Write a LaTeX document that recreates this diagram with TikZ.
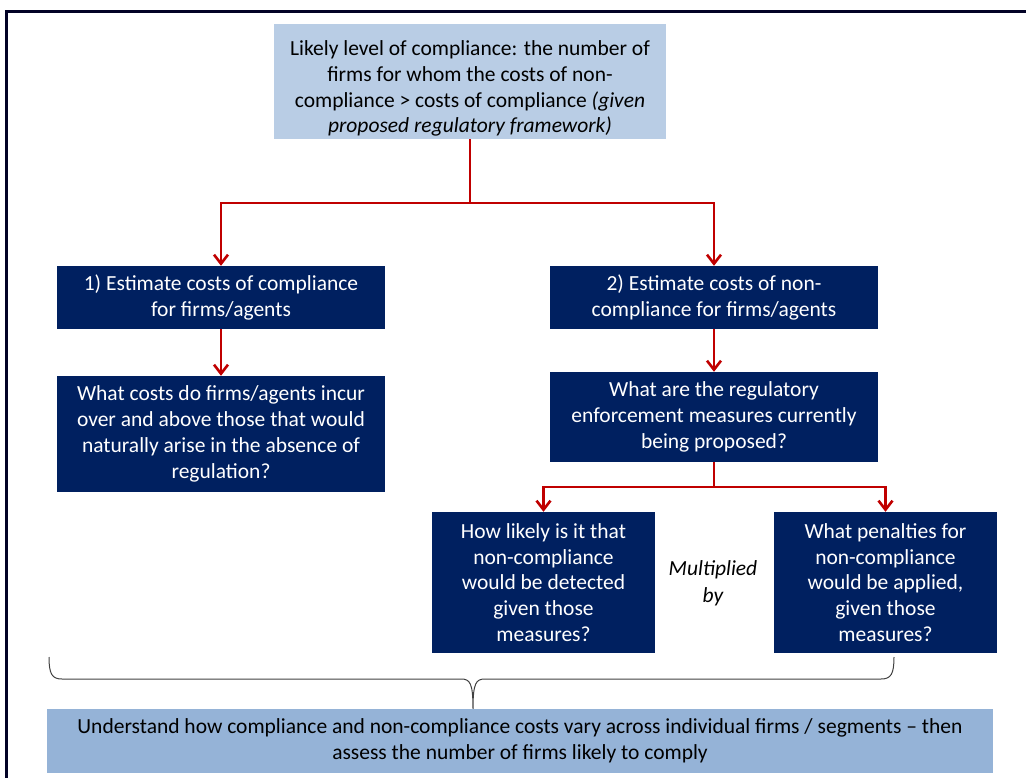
\documentclass[tikz,border=0pt]{standalone}
\usepackage{fontspec}
\setmainfont{Carlito}
\usetikzlibrary{arrows.meta}
\definecolor{navy}{RGB}{0,32,96}
\definecolor{framecol}{RGB}{2,2,38}
\definecolor{paleblue}{RGB}{185,205,229}
\definecolor{midblue}{RGB}{149,179,215}
\definecolor{arrowred}{RGB}{192,0,0}
\definecolor{bracecol}{RGB}{64,64,64}
\tikzset{
  txt/.style={font=\fontsize{21.5}{25.8}\selectfont, align=center, inner sep=0pt},
  darkbox/.style={txt, fill=navy, text=white},
  lightbox/.style={txt, fill=paleblue, text=black},
  summarybox/.style={txt, fill=midblue, text=black},
  redline/.style={draw=arrowred, line width=2.6pt},
  redarrow/.style={redline, -{Straight Barb[length=9pt,width=14pt,line width=2.6pt]}},
}
\begin{document}
\begin{tikzpicture}[x=1pt, y=-1pt]
\useasboundingbox (0,0) rectangle (1026,778);

% outer frame (left and top edges)
\draw[framecol, line width=3pt] (6.5,778) -- (6.5,11.5) -- (1026,11.5);

% top question box
\node[lightbox, minimum width=392pt, minimum height=115pt] (top) at (470,81.5) {};
\node[txt] (toptext) at (470,88.5) {Likely level of compliance: the number of\\
firms for whom the costs of non-\\
compliance > costs of compliance \textit{(given}\\
\textit{proposed regulatory framework)}};

% left branch
\node[darkbox, minimum width=328pt, minimum height=63pt] (l1) at (221,297.5)
  {1) Estimate costs of compliance\\for firms/agents};
\node[darkbox, minimum width=328pt, minimum height=116pt] (l2) at (221,434)
  {What costs do firms/agents incur\\over and above those that would\\naturally arise in the absence of\\regulation?};

% right branch
\node[darkbox, minimum width=328pt, minimum height=63pt] (r1) at (714,297.5)
  {2) Estimate costs of non-\\compliance for firms/agents};
\node[darkbox, minimum width=328pt, minimum height=90pt] (r2) at (714,417)
  {What are the regulatory\\enforcement measures currently\\being proposed?};
\node[darkbox, minimum width=223pt, minimum height=141pt] (r3a) at (543.5,582.5)
  {How likely is it that\\non-compliance\\would be detected\\given those\\measures?};
\node[darkbox, minimum width=223pt, minimum height=141pt] (r3b) at (885.5,582.5)
  {What penalties for\\non-compliance\\would be applied,\\given those\\measures?};
\node[txt, font=\fontsize{21.5}{27}\selectfont\itshape] (mult) at (713,583) {Multiplied\\by};

% summary box
\node[summarybox, minimum width=946pt, minimum height=64pt] (sum) at (520,741)
  {Understand how compliance and non-compliance costs vary across individual firms / segments -- then\\assess the number of firms likely to comply};

% connectors
\coordinate (split1) at (470,203);
\coordinate (split2) at (714,487);
\draw[redline] (top.south) -- (split1);
\draw[redarrow] (split1) -| (l1.north);
\draw[redarrow] (split1) -| (r1.north);
\draw[redarrow] (l1.south) -- (l2.north);
\draw[redarrow] (r1.south) -- (r2.north);
\draw[redline] (r2.south) -- (split2);
\draw[redarrow] (split2) -| (r3a.north);
\draw[redarrow] (split2) -| (r3b.north);

% brace gathering everything into the summary
\coordinate (bl) at (49,657);
\coordinate (br) at (894,657);
\coordinate (btip) at (sum.north -| 473,0);
\draw[bracecol, line width=1pt]
  (bl) .. controls (49,674) and (52,679) .. (62,679) -- (461,679)
  .. controls (470,679) and (473,683) .. (btip)
  .. controls (473,683) and (476,679) .. (485,679) -- (881,679)
  .. controls (891,679) and (894,674) .. (br);
\end{tikzpicture}
\end{document}
